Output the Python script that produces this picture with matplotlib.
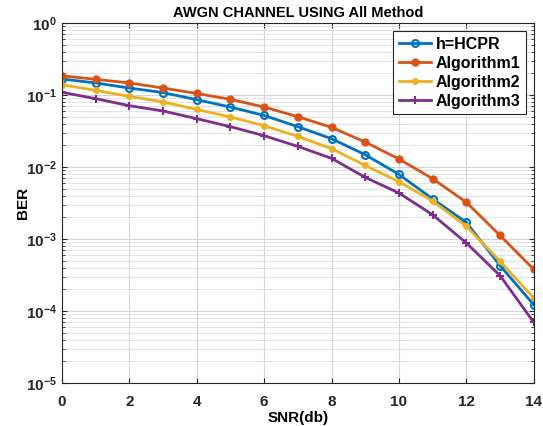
import numpy as np
import matplotlib.pyplot as plt

plt.rcParams['font.family'] = ['Liberation Sans', 'DejaVu Sans']
plt.rcParams['font.weight'] = 'bold'

snr = np.arange(0, 15)
hcpr = [0.167, 0.147, 0.125, 0.108, 0.086, 0.068, 0.052, 0.0363, 0.0247, 0.0148,
        0.00789, 0.0036, 0.0017, 0.000426, 0.000122]
alg1 = [0.185, 0.165, 0.147, 0.125, 0.105, 0.087, 0.068, 0.050, 0.0355, 0.0222,
        0.0129, 0.00688, 0.00323, 0.00112, 0.000378]
alg2 = [0.139, 0.116, 0.0957, 0.080, 0.063, 0.0495, 0.0375, 0.0266, 0.0180, 0.0105,
        0.00625, 0.00337, 0.0015, 0.00049, 0.000151]
alg3 = [0.109, 0.089, 0.071, 0.060, 0.0469, 0.0363, 0.0272, 0.0193, 0.0132, 0.00717,
        0.00435, 0.00217, 0.00088, 0.00031, 0.0000695]

fig = plt.figure(figsize=(5.43, 4.26), dpi=100)
ax = fig.add_axes([0.114, 0.101, 0.869, 0.845])

ax.semilogy(snr, hcpr, '-o', color='#0072BD', lw=2, ms=5, mfc='none', mew=1.5, label='h=HCPR')
ax.semilogy(snr, alg1, '-o', color='#D95319', lw=2, ms=5, label='Algorithm1')
ax.semilogy(snr, alg2, '-o', color='#EDB120', lw=2, ms=4, label='Algorithm2')
ax.semilogy(snr, alg3, '-+', color='#7E2F8E', lw=2, ms=6, mew=1.5, label='Algorithm3')

ax.set_xlim(0, 14)
ax.set_ylim(1e-5, 1)
ax.set_xticks(range(0, 15, 2))
ax.grid(True, which='major', color='#d4d4d4', lw=0.8)
ax.grid(True, which='minor', axis='y', color='#dedede', lw=0.6)
ax.tick_params(which='both', direction='in', top=True, right=True, labelsize=11, colors='#262626')
ax.tick_params(axis='x', pad=9)
for s in ax.spines.values():
    s.set_color('#262626')
    s.set_linewidth(0.8)

ax.set_xlabel('SNR(db)', fontsize=11, fontweight='bold', labelpad=1)
ax.set_ylabel('BER', fontsize=11, fontweight='bold', labelpad=-3)
ax.set_title('AWGN CHANNEL USING All Method', fontsize=10.5, fontweight='bold', pad=4)

leg = ax.legend(loc='upper right', fontsize=11.5, fancybox=False, framealpha=1,
                edgecolor='#262626', handlelength=2.0, borderaxespad=0.5,
                labelspacing=0.25, handletextpad=0.3, borderpad=0.35)
leg.get_frame().set_linewidth(0.8)

fig.savefig('out.png', dpi=100)
